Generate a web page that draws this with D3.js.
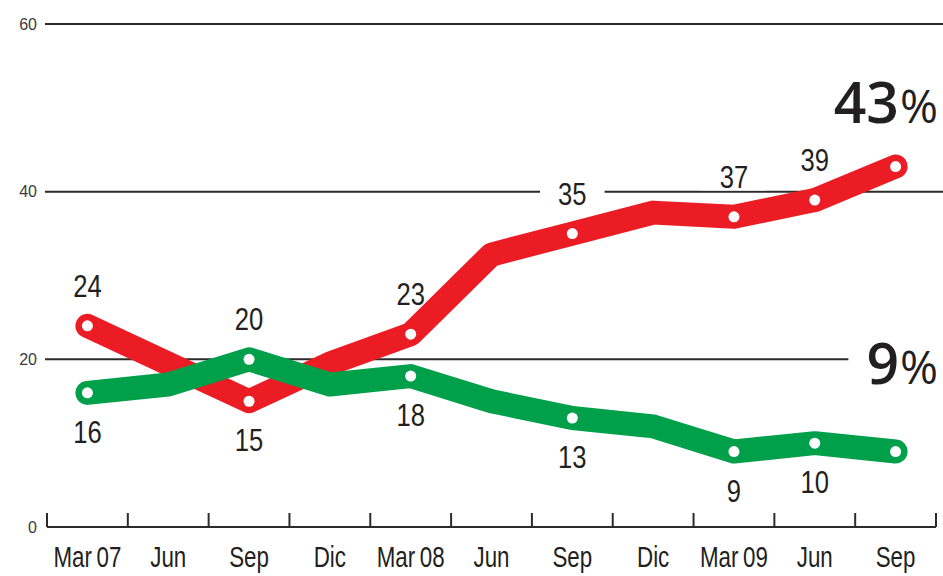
<!DOCTYPE html>
<html>
<head>
<meta charset="utf-8">
<script src="https://cdn.jsdelivr.net/npm/d3@7"></script>
<style>
  body { margin: 0; background: #fff; }
  svg { display: block; }
  .num { font-family: "Liberation Sans", Arial, sans-serif; fill: #231f20; }
</style>
</head>
<body>
<svg id="chart" width="943" height="576"></svg>
<script>
const periods = ["2007-03","2007-06","2007-09","2007-12","2008-03","2008-06","2008-09","2008-12","2009-03","2009-06","2009-09"];
const tickLabels = ["Mar 07","Jun","Sep","Dic","Mar 08","Jun","Sep","Dic","Mar 09","Jun","Sep"];
const redValues = [24, 19.5, 15, 19.5, 23, 32.5, 35, 37.5, 37, 39, 43];
const greenValues = [16, 17, 20, 17, 18, 15, 13, 12, 9, 10, 9];
const labeled = [0, 2, 4, 6, 8, 9];   // points with a small number + white dot
const yTicks = [0, 20, 40, 60];

const RED = "#ec1c24", GREEN = "#00a04b";
const NARROW = 0.8; // no condensed font installed, squeeze horizontally

const svg = d3.select("#chart");
const x = d3.scaleBand().domain(periods).range([47, 936]);
const y = d3.scaleLinear().domain([0, 60]).range([527, 24]);
const cx = i => x(periods[i]) + x.bandwidth() / 2;

// gridlines
const gridG = svg.append("g");
gridG.selectAll("line")
  .data(yTicks.filter(t => t > 0))
  .enter().append("line")
  .attr("x1", 45).attr("x2", 943)
  .attr("y1", d => y(d)).attr("y2", d => y(d))
  .attr("stroke", "#2b2b2b").attr("stroke-width", 2);

// y labels
svg.append("g").selectAll("text")
  .data(yTicks)
  .enter().append("text")
  .attr("x", 37).attr("y", d => y(d))
  .attr("dy", "0.36em")
  .attr("text-anchor", "end")
  .style("font-family", "Liberation Sans, sans-serif")
  .style("font-size", "16px")
  .style("fill", "#3a3a3a")
  .text(d => d);

// x axis: baseline + ticks on the band boundaries
const axisG = svg.append("g");
axisG.append("line")
  .attr("x1", x.range()[0]).attr("x2", x.range()[1])
  .attr("y1", y(0)).attr("y2", y(0))
  .attr("stroke", "#2b2b2b").attr("stroke-width", 2);
const bounds = periods.map(p => x(p)).concat([x.range()[1]]);
axisG.selectAll("line.tick")
  .data(bounds)
  .enter().append("line")
  .attr("class", "tick")
  .attr("x1", d => d).attr("x2", d => d)
  .attr("y1", y(0)).attr("y2", y(0) - 14)
  .attr("stroke", "#2b2b2b").attr("stroke-width", 2);
axisG.selectAll("text")
  .data(tickLabels)
  .enter().append("text")
  .attr("class", "num")
  .attr("transform", (d, i) => `translate(${cx(i)},567) scale(0.77,1)`)
  .attr("text-anchor", "middle")
  .style("font-size", "29px")
  .style("word-spacing", "-2px")
  .text(d => d);

// small value labels (above if this series is the higher one, below otherwise)
const labelData = [];
labeled.forEach(i => {
  const r = redValues[i], g = greenValues[i];
  labelData.push({ i, v: r, above: r >= g });
  labelData.push({ i, v: g, above: g > r });
});

const bgG = svg.append("g");
const lineG = svg.append("g");
const labelG = svg.append("g");

const line = d3.line().x((d, i) => cx(i)).y(d => y(d));
[[redValues, RED], [greenValues, GREEN]].forEach(([vals, col]) => {
  lineG.append("path")
    .datum(vals)
    .attr("d", line)
    .attr("fill", "none")
    .attr("stroke", col)
    .attr("stroke-width", 24)
    .attr("stroke-linejoin", "round")
    .attr("stroke-linecap", "round");
});

const dotIdx = labeled.concat([periods.length - 1]);
[redValues, greenValues].forEach(vals => {
  lineG.selectAll(null)
    .data(dotIdx)
    .enter().append("circle")
    .attr("cx", i => cx(i))
    .attr("cy", i => y(vals[i]))
    .attr("r", 5.5)
    .attr("fill", "#fff");
});

labelG.selectAll("text.val")
  .data(labelData)
  .enter().append("text")
  .attr("class", "num val")
  .attr("transform", d => `translate(${cx(d.i)},${y(d.v) + (d.above ? -29 : 50)}) scale(${NARROW},1)`)
  .attr("text-anchor", "middle")
  .style("font-size", "32px")
  .text(d => d.v);

// final big labels
const last = periods.length - 1;
const big = [
  { v: redValues[last], yPos: y(redValues[last]) - 44 },
  { v: greenValues[last], yPos: y(20) + 25 }
];
big.forEach(b => {
  const t = labelG.append("text")
    .attr("transform", `translate(938,${b.yPos})`)
    .attr("text-anchor", "end")
    .style("font-family", "Open Sans, sans-serif")
    .style("fill", "#231f20");
  t.append("tspan").style("font-size", "57px").style("font-weight", 600).text(b.v);
  t.append("tspan").style("font-size", "46px").style("font-weight", 400).attr("dx", 1).text("%");
});

// white knock-outs behind labels so the gridlines break around them
labelG.selectAll("text").each(function () {
  const bb = this.getBBox();
  const s = this.getAttribute("transform").includes("scale") ? NARROW : 1;
  bgG.append("rect")
    .attr("transform", this.getAttribute("transform"))
    .attr("x", bb.x - 18 / s).attr("y", bb.y + 4)
    .attr("width", bb.width + 36 / s).attr("height", bb.height - 8)
    .attr("fill", "#fff");
});
</script>
</body>
</html>
